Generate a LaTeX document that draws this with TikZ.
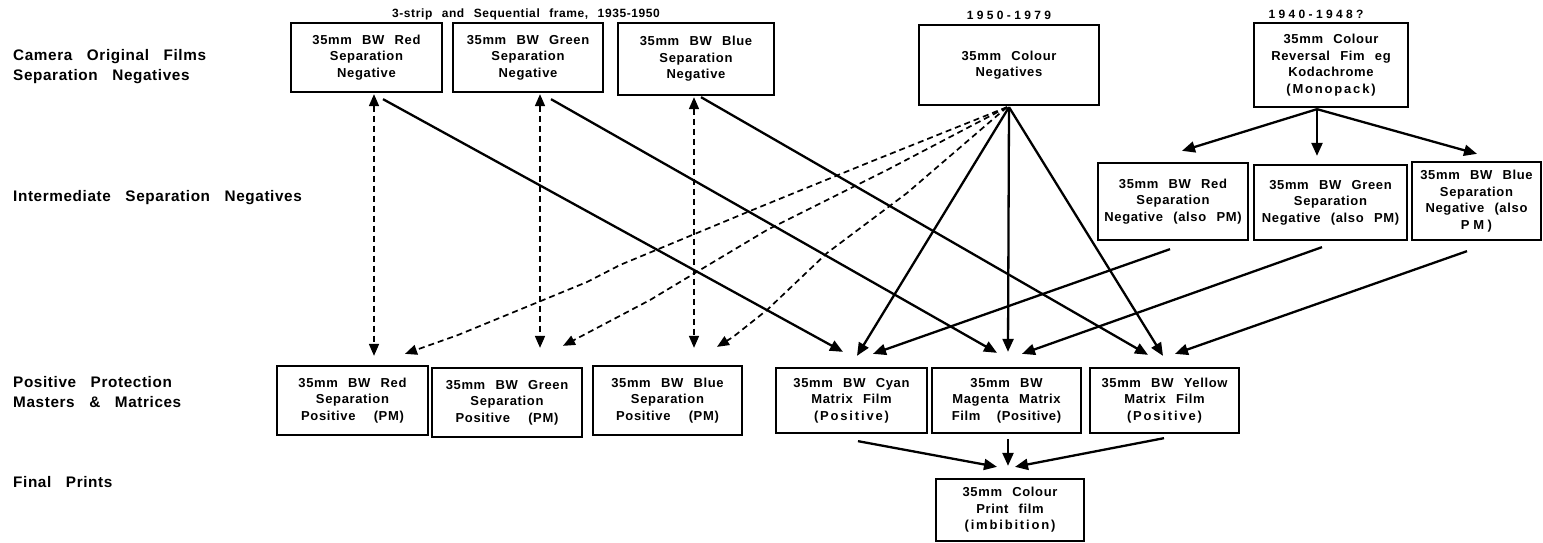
\documentclass[tikz,border=0pt]{standalone}
\usepackage{fontspec}
\setmainfont{Liberation Sans}[WordSpace=2.4, LetterSpace=5]
\newfontfamily\labelfont{Liberation Sans}[WordSpace=3.0, LetterSpace=4]
\newfontfamily\spaced{Liberation Sans}[WordSpace=2.4, LetterSpace=14]
\newfontfamily\wider{Liberation Sans}[LetterSpace=28]
\usetikzlibrary{arrows.meta,calc}

\tikzset{
  film/.style={draw, line width=2.3pt, align=center, inner sep=0pt,
    font=\bfseries\fontsize{13}{16.5}\selectfont},
  rowlabel/.style={anchor=west, align=left, inner sep=0pt,
    font=\labelfont\bfseries\fontsize{15.3}{20}\selectfont},
  period/.style={inner sep=0pt, font=\bfseries\fontsize{12}{14}\selectfont},
  flow/.style={line width=2.3pt, -{Triangle[length=13pt,width=11pt]}},
  copyflow/.style={line width=1.7pt, dash pattern=on 6pt off 4pt,
    -{Triangle[length=12pt,width=10pt]}},
  twoway/.style={line width=1.7pt, dash pattern=on 6pt off 4pt,
    {Triangle[length=12pt,width=10pt]}-{Triangle[length=12pt,width=10pt]}}
}

\begin{document}
\begin{tikzpicture}[x=1pt, y=-1pt]
\useasboundingbox (0,0) rectangle (1543,542);

% row captions
\node[rowlabel] (l1) at (13,67) {Camera Original Films\\Separation Negatives};
\node[rowlabel] (l2) at (13,198) {Intermediate Separation Negatives};
\node[rowlabel] (l3) at (13,392) {Positive Protection\\Masters \& Matrices};
\node[rowlabel] (l4) at (13,482) {Final Prints};

% periods
\node[period] (p1) at (526,14) {3-strip and Sequential frame, 1935-1950};
\node[period] (p2) at (1009,15) {\wider 1950-1979};
\node[period] (p3) at (1316,14) {\wider 1940-1948?};

% camera originals
\node[film, minimum width=151, minimum height=69] (rneg) at (366.5,57.5) {35mm BW Red\\Separation\\Negative};
\node[film, minimum width=150, minimum height=69] (gneg) at (528,57.5) {35mm BW Green\\Separation\\Negative};
\node[film, minimum width=156, minimum height=72] (bneg) at (696,59) {35mm BW Blue\\Separation\\Negative};
\node[film, minimum width=180, minimum height=80] (cneg) at (1009,65) {35mm Colour\\Negatives};
\node[film, minimum width=154, minimum height=84] (mono) at (1331,65) {35mm Colour\\Reversal Fim eg\\Kodachrome\\{\spaced (Monopack)}};

% intermediate separation negatives
\node[film, minimum width=150, minimum height=77] (ir) at (1173,201.5) {35mm BW Red\\Separation\\Negative (also PM)};
\node[film, minimum width=153, minimum height=75] (ig) at (1330.5,202.5) {35mm BW Green\\Separation\\Negative (also PM)};
\node[film, minimum width=129, minimum height=78] (ib) at (1476.5,201) {35mm BW Blue\\Separation\\Negative (also\\{\wider PM)}};

% positives and matrices
\node[film, minimum width=151, minimum height=69] (rpos) at (352.5,400.5) {35mm BW Red\\Separation\\Positive\hspace{8pt} (PM)};
\node[film, minimum width=150, minimum height=69] (gpos) at (507,402.5) {35mm BW Green\\Separation\\Positive\hspace{8pt} (PM)};
\node[film, minimum width=149, minimum height=69] (bpos) at (667.5,400.5) {35mm BW Blue\\Separation\\Positive\hspace{8pt} (PM)};
\node[film, minimum width=151, minimum height=65] (cyan) at (851.5,400.5) {35mm BW Cyan\\Matrix Film\\{\spaced (Positive)}};
\node[film, minimum width=149, minimum height=65] (mag) at (1006.5,400.5) {35mm BW\\Magenta Matrix\\Film\hspace{6pt} (Positive)};
\node[film, minimum width=149, minimum height=65] (yel) at (1164.5,400.5) {35mm BW Yellow\\Matrix Film\\{\spaced (Positive)}};

% final print
\node[film, minimum width=148, minimum height=62] (final) at (1010,510) {35mm Colour\\Print film\\{\spaced (imbibition)}};

% bends of the dashed copy paths
\coordinate (a1) at (870,162); \coordinate (a2) at (750,211); \coordinate (a3) at (620,265);
\coordinate (a4) at (587,282); \coordinate (a5) at (458,335);
\coordinate (b1) at (887,170); \coordinate (b2) at (767,230); \coordinate (b3) at (700,270);
\coordinate (b4) at (650,300);
\coordinate (c1) at (907,193); \coordinate (c2) at (827,253); \coordinate (c3) at (767,310);
\coordinate (c4) at (733,337);

% separation negatives <-> separation positives
\draw[twoway] ($(rneg.south)+(7.5,1)$) -- ($(rpos.north)+(21.5,-9)$);
\draw[twoway] ($(gneg.south)+(12,1)$) -- ($(gpos.north)+(33,-19)$);
\draw[twoway] ($(bneg.south)+(-2,1)$) -- ($(bpos.north)+(26.5,-17)$);

% colour negative -> separation positives
\draw[copyflow] ($(cneg.south)+(-2,1)$) -- (a1) -- (a2) -- (a3) -- (a4) -- (a5) -- ($(rpos.north)+(52.5,-11)$);
\draw[copyflow] ($(cneg.south)+(-2,1)$) -- (b1) -- (b2) -- (b3) -- (b4) -- ($(gpos.north)+(56,-21)$);
\draw[copyflow] ($(cneg.south)+(-2,1)$) -- (c1) -- (c2) -- (c3) -- (c4) -- ($(bpos.north)+(49.5,-18)$);

% separation negatives -> matrices
\draw[flow] ($(rneg.south)+(16.5,6)$) -- ($(cyan.north)+(-8.5,-15)$);
\draw[flow] ($(gneg.south)+(23,6)$) -- ($(mag.north)+(-9.5,-14)$);
\draw[flow] ($(bneg.south)+(5,1)$) -- ($(yel.north)+(-16.5,-12)$);

% colour negative -> matrices
\draw[flow] ($(cneg.south)+(0,1)$) -- ($(cyan.north)+(5.5,-11)$);
\draw[flow] ($(cneg.south)+(0,1)$) -- ($(mag.north)+(1.5,-15)$);
\draw[flow] ($(cneg.south)+(0,1)$) -- ($(yel.north)+(-1.5,-11)$);

% monopack -> intermediate negatives
\draw[flow] ($(mono.south)+(-14,1)$) -- ($(ir.north)+(9,-11)$);
\draw[flow] ($(mono.south)+(-14,1)$) -- ($(ig.north)+(-13.5,-8)$);
\draw[flow] ($(mono.south)+(-14,1)$) -- ($(ib.north)+(0.5,-7)$);

% intermediate negatives -> matrices
\draw[flow] ($(ir.south)+(-3,8)$) -- ($(cyan.north)+(21.5,-13)$);
\draw[flow] ($(ig.south)+(-8.5,6)$) -- ($(mag.north)+(15.5,-13)$);
\draw[flow] ($(ib.south)+(-9.5,10)$) -- ($(yel.north)+(10.5,-13)$);

% matrices -> print
\draw[flow] ($(cyan.south)+(6.5,7)$) -- ($(final.north)+(-13,-11)$);
\draw[flow] ($(mag.south)+(1.5,5)$) -- ($(final.north)+(-2,-12)$);
\draw[flow] ($(yel.south)+(-0.5,4)$) -- ($(final.north)+(5,-11)$);
\end{tikzpicture}
\end{document}
